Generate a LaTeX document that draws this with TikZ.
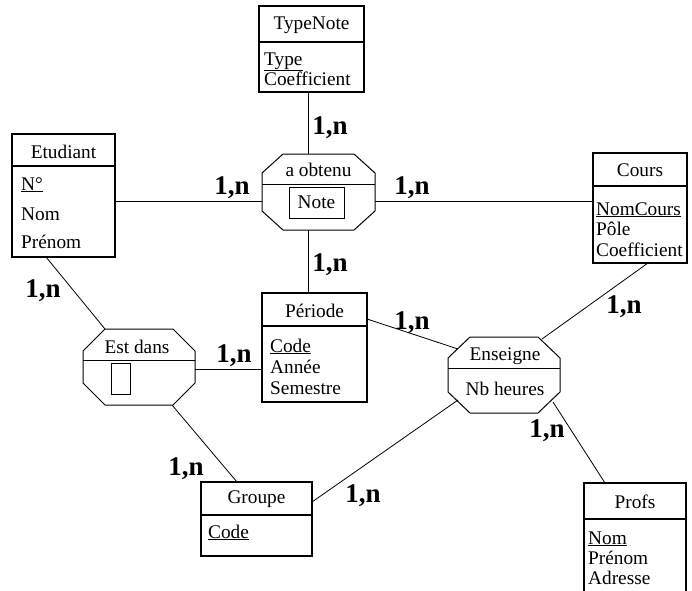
\documentclass[tikz,border=0pt]{standalone}
\usepackage{fontspec}
\setmainfont{Liberation Serif}
\usetikzlibrary{calc}
\newcommand\myocta[3]{%
  \draw[octline] ($(#1.north west)+(#2,0)$) -- ($(#1.north east)+(-#2,0)$)
    -- ($(#1.north east)+(0,#3)$) -- ($(#1.south east)+(0,-#3)$)
    -- ($(#1.south east)+(-#2,0)$) -- ($(#1.south west)+(#2,0)$)
    -- ($(#1.south west)+(0,-#3)$) -- ($(#1.north west)+(0,#3)$) -- cycle;}
\begin{document}
\begin{tikzpicture}[x=1pt,y=-1pt,
  ent/.style={draw, line width=1.1pt, inner sep=0pt, outer sep=0pt, anchor=north west},
  hdr/.style={line width=1.8pt},
  assoc/.style={rectangle, inner sep=0pt, outer sep=0pt, minimum width=112pt, minimum height=76pt},
  octline/.style={line width=1pt, line join=miter},
  sep/.style={line width=0.9pt},
  conn/.style={line width=0.8pt},
  ttl/.style={font=\fontsize{19.3}{21}\selectfont, inner sep=0pt},
  attr/.style={font=\fontsize{19.3}{21}\selectfont, inner sep=0pt, anchor=base west},
  card/.style={font=\fontsize{27}{29}\selectfont\bfseries, inner sep=0pt, anchor=base}]
\useasboundingbox (0,0) rectangle (692,590);
\clip (0,0) rectangle (692,590);

% ---------- entities ----------
\node[ent, minimum width=105pt, minimum height=86pt] (typenote) at (259,6) {};
\draw[hdr] (typenote.west |- 0,42) -- (typenote.east |- 0,42);
\node[ttl] (typenoteT) at (311.5,25) {TypeNote};
\node[attr] (typenoteA) at (264,65) {\underline{Type}};
\node[attr] (typenoteB) at (264,85) {Coefficient};

\node[ent, minimum width=103pt, minimum height=123pt] (etudiant) at (12,134) {};
\draw[hdr] (etudiant.west |- 0,166) -- (etudiant.east |- 0,166);
\node[ttl] (etudiantT) at (63.5,152) {Etudiant};
\node[attr] (etudiantA) at (21,190) {\underline{N°}};
\node[attr] (etudiantB) at (21,220) {Nom};
\node[attr] (etudiantC) at (21,248) {Prénom};

\node[ent, minimum width=94pt, minimum height=110pt] (cours) at (593,153) {};
\draw[hdr] (cours.west |- 0,186) -- (cours.east |- 0,186);
\node[ttl] (coursT) at (640,170) {Cours};
\node[attr] (coursA) at (596,215) {\underline{NomCours}};
\node[attr] (coursB) at (596,235) {Pôle};
\node[attr] (coursC) at (596,256) {Coefficient};

\node[ent, minimum width=105pt, minimum height=109pt] (periode) at (262,293) {};
\draw[hdr] (periode.west |- 0,326) -- (periode.east |- 0,326);
\node[ttl] (periodeT) at (314.5,311) {Période};
\node[attr] (periodeA) at (270,352) {\underline{Code}};
\node[attr] (periodeB) at (270,373) {Année};
\node[attr] (periodeC) at (270,394) {Semestre};

\node[ent, minimum width=111pt, minimum height=74pt] (groupe) at (201,482) {};
\draw[hdr] (groupe.west |- 0,515) -- (groupe.east |- 0,515);
\node[ttl] (groupeT) at (256.5,499) {Groupe};
\node[attr] (groupeA) at (208,538) {\underline{Code}};

\node[ent, minimum width=102pt, minimum height=130pt] (profs) at (584,483) {};
\draw[hdr] (profs.west |- 0,519) -- (profs.east |- 0,519);
\node[ttl] (profsT) at (635,502) {Profs};
\node[attr] (profsA) at (588,544) {\underline{Nom}};
\node[attr] (profsB) at (588,564) {Prénom};
\node[attr] (profsC) at (588,584) {Adresse};

% ---------- associations ----------
\node[assoc, minimum width=113pt] (obtenu) at (318.5,192) {};
\myocta{obtenu}{21}{19}
\draw[sep] (obtenu.west |- 0,184) -- (obtenu.east |- 0,184);
\node[ttl] (obtenuT) at (318.5,170) {a obtenu};
\node[draw, line width=0.9pt, minimum width=55pt, minimum height=31pt, inner sep=0pt,
  font=\fontsize{19.3}{21}\selectfont] (note) at (316.5,202.5) {Note};

\node[assoc] (estdans) at (139,367) {};
\myocta{estdans}{22}{22}
\draw[sep] (estdans.west |- 0,360) -- (estdans.east |- 0,360);
\node[ttl] (estdansT) at (137,347) {Est dans};
\node[draw, line width=0.9pt, minimum width=19pt, minimum height=31pt, inner sep=0pt] (slot) at (120.5,378.5) {};

\node[assoc] (ensg) at (504,375) {};
\myocta{ensg}{22}{21}
\draw[sep] (ensg.west |- 0,368) -- (ensg.east |- 0,368);
\node[ttl] (ensgT) at (505,356) {Enseigne};
\node[ttl] (ensgB) at (505,389) {Nb heures};

% ---------- connectors ----------
\draw[conn] (typenote.south -| 308,0) -- (obtenu.north -| 308,0);
\draw[conn] (etudiant.east |- 0,201) -- (obtenu.west |- 0,201);
\draw[conn] (obtenu.east |- 0,201) -- (cours.west |- 0,201);
\draw[conn] (obtenu.south -| 308,0) -- (periode.north -| 308,0);
\draw[conn] (etudiant.south -| 46,0) -- (estdans.north -| 105,0);
\draw[conn] (estdans.east |- 0,369) -- (periode.west |- 0,369);
\draw[conn] (estdans.south -| 172,0) -- (groupe.north -| 237,0);
\draw[conn] (periode.east |- 0,319) -- ($(ensg.center)+(-46,-26)$);
\draw[conn] (cours.south -| 648,0) -- ($(ensg.center)+(38,-36)$);
\draw[conn] ($(ensg.center)+(-46,25)$) -- (groupe.east |- 0,502);
\draw[conn] ($(ensg.center)+(49,27)$) -- (profs.north -| 605,0);

% ---------- cardinalities ----------
\node[card] (c1) at (330,134) {1,n};
\node[card] (c2) at (232,194) {1,n};
\node[card] (c3) at (412,194) {1,n};
\node[card] (c4) at (330,271) {1,n};
\node[card] (c5) at (43,297) {1,n};
\node[card] (c6) at (412,329) {1,n};
\node[card] (c7) at (624,313) {1,n};
\node[card] (c8) at (547,437) {1,n};
\node[card] (c9) at (234,362) {1,n};
\node[card] (c10) at (186,475) {1,n};
\node[card] (c11) at (363,502) {1,n};
\end{tikzpicture}
\end{document}
